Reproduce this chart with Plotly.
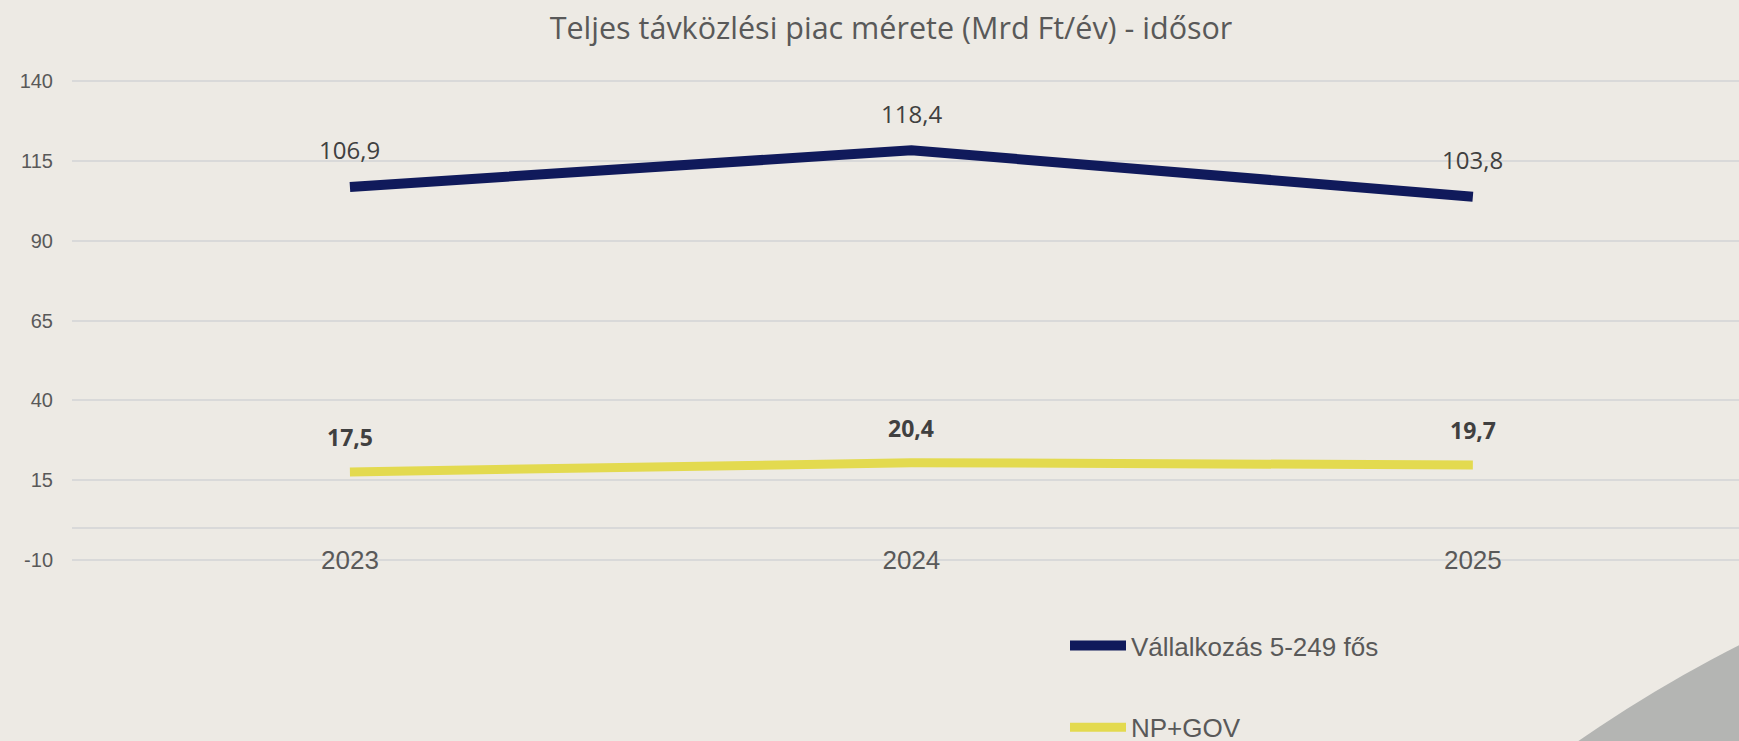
import plotly.graph_objects as go

years = ["2023", "2024", "2025"]
vallalkozas = [106.9, 118.4, 103.8]
np_gov = [17.5, 20.4, 19.7]
series_names = ["Vállalkozás 5-249 fős", "NP+GOV"]
y_ticks = [-10, 15, 40, 65, 90, 115, 140]
y_tick_text = ["-10", "15", "40", "65", "90", "115", "140"]

W, H = 1739, 741
ML, MR, MT, MB = 72, 0, 75, 175
BG = "#EDEAE4"
NAVY = "#101A5B"
YELLOW = "#E3DA4F"

fig = go.Figure()
fig.add_trace(go.Scatter(x=years, y=vallalkozas, mode="lines", name=series_names[0],
                         line=dict(color=NAVY, width=10), legendgroup="a",
                         hoverinfo="x+y"))
fig.add_trace(go.Scatter(x=years, y=np_gov, mode="lines", name=series_names[1],
                         line=dict(color=YELLOW, width=9), legendgroup="b",
                         hoverinfo="x+y"))

def fmt(v):
    return f"{v:.1f}".replace(".", ",")

ann = []
for i, v in enumerate(vallalkozas):
    ann.append(dict(x=i, y=v, xref="x", yref="y", text=fmt(v), showarrow=False,
                    yshift=37, yanchor="middle",
                    font=dict(family="Open Sans", size=24, color="#404040")))
for i, v in enumerate(np_gov):
    ann.append(dict(x=i, y=v, xref="x", yref="y", text="<b>" + fmt(v) + "</b>",
                    showarrow=False, yshift=35, yanchor="middle",
                    font=dict(family="Open Sans", size=23, color="#404040")))

plot_w = W - ML - MR
plot_h = H - MT - MB
def px_x(p):
    return (p - ML) / plot_w
def px_y(p):
    return (H - MB - p) / plot_h

cx, cy, r = 2340, 1835, 1333
shapes = [dict(type="circle", xref="paper", yref="paper",
               x0=px_x(cx - r), x1=px_x(cx + r), y0=px_y(cy + r), y1=px_y(cy - r),
               fillcolor="#B4B5B3", line=dict(width=0), layer="below")]

fig.update_layout(
    width=W, height=H,
    margin=dict(l=ML, r=MR, t=MT, b=MB, autoexpand=False),
    paper_bgcolor=BG, plot_bgcolor=BG,
    title=dict(text="Teljes távközlési piac mérete (Mrd Ft/év) - idősor",
               x=891 / W, xanchor="center", xref="container",
               y=1 - 28 / H, yanchor="middle", yref="container",
               font=dict(family="Open Sans", size=30.5, color="#595959")),
    xaxis=dict(type="category", range=[-0.495, 2.474], showgrid=False, zeroline=False,
               showline=False, ticks="", anchor="free", position=px_y(542),
               tickfont=dict(family="Liberation Sans", size=26, color="#595959")),
    yaxis=dict(range=[-12, 142], tickvals=y_ticks, ticktext=y_tick_text,
               showgrid=True, gridcolor="#D9D9D9",
               gridwidth=1.5, zeroline=True, zerolinecolor="#D9D9D9", zerolinewidth=1.5,
               showline=False, ticks="", ticklabelstandoff=18,
               tickfont=dict(family="Liberation Sans", size=20, color="#595959")),
    legend=dict(x=px_x(1065), xanchor="left", y=px_y(622), yanchor="top",
                bgcolor="rgba(0,0,0,0)", tracegroupgap=45, itemwidth=56,
                font=dict(family="Liberation Sans", size=26, color="#595959")),
    annotations=ann,
    shapes=shapes,
    showlegend=True,
)

fig.write_html("out.html", config={"displayModeBar": False},
               post_script="document.body.style.margin='0';document.body.style.padding='0';"
                           "document.body.style.overflow='hidden';"
                           "document.documentElement.style.overflow='hidden';")
